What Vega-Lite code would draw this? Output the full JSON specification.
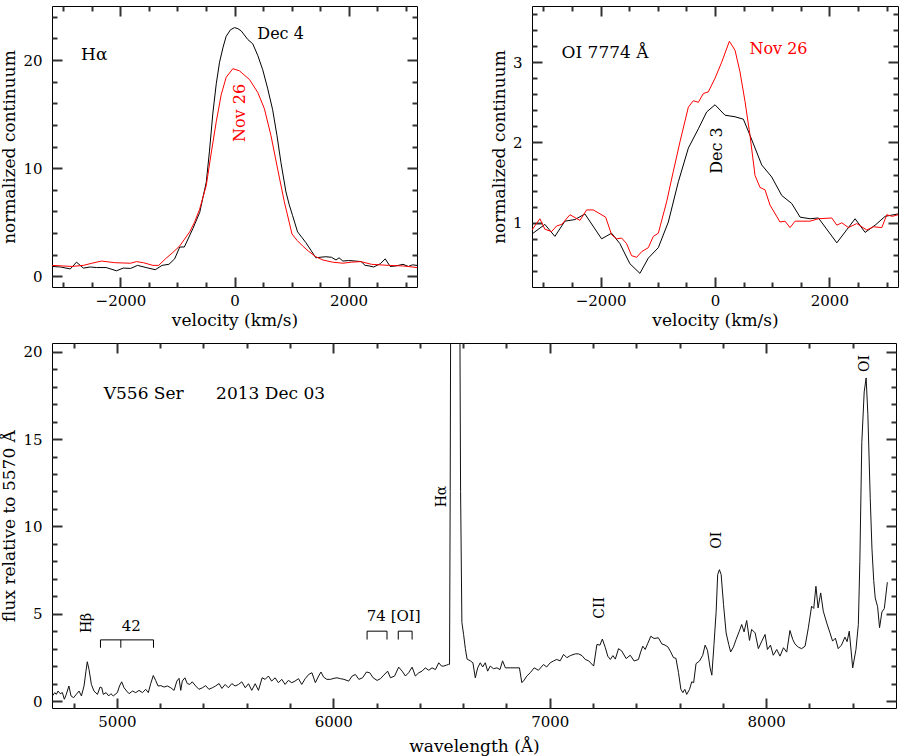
{
  "$schema": "https://vega.github.io/schema/vega-lite/v6.json",
  "autosize": {"type": "pad"},
  "padding": {"left": 0, "top": 4, "right": 2, "bottom": 2},
  "background": "white",
  "spacing": 12,
  "config": {
    "view": {"stroke": "#000", "strokeWidth": 1},
    "axis": {
      "domain": false, "grid": false, "ticks": true, "tickColor": "#333", "tickWidth": 2, "tickOpacity": 1, "zindex": 1,
      "labelColor": "#000", "titleColor": "#000",
      "labelFont": "DejaVu Serif", "titleFont": "DejaVu Serif",
      "labelFontSize": 15, "titleFontSize": 17, "titleFontWeight": "normal",
      "labelPadding": 6, "titlePadding": 4
    },
    "text": {"font": "DejaVu Serif"}
  },
  "datasets": {
    "haBlack": [
      {"v":-3200,"f":0.9},{"v":-3050,"f":0.85},{"v":-2880,"f":0.67},{"v":-2770,"f":1.3},{"v":-2650,"f":0.75},{"v":-2530,"f":0.85},{"v":-2420,"f":0.8},{"v":-2250,"f":0.8},{"v":-2070,"f":0.5},{"v":-1950,"f":0.75},{"v":-1820,"f":0.72},{"v":-1700,"f":1.0},{"v":-1550,"f":0.8},{"v":-1390,"f":0.6},{"v":-1270,"f":1.0},{"v":-1150,"f":1.1},{"v":-1050,"f":1.6},{"v":-960,"f":2.7},{"v":-880,"f":2.7},{"v":-730,"f":4.4},{"v":-610,"f":5.9},{"v":-495,"f":8.7},{"v":-440,"f":11.5},{"v":-379,"f":15.1},{"v":-320,"f":17.8},{"v":-262,"f":19.8},{"v":-200,"f":21.2},{"v":-146,"f":22.2},{"v":-70,"f":22.8},{"v":0,"f":23.0},{"v":60,"f":22.9},{"v":117,"f":22.7},{"v":233,"f":21.9},{"v":320,"f":21.5},{"v":410,"f":20.4},{"v":495,"f":19.1},{"v":580,"f":17.4},{"v":669,"f":15.4},{"v":745,"f":13.0},{"v":815,"f":10.5},{"v":902,"f":7.8},{"v":960,"f":6.6},{"v":1019,"f":5.6},{"v":1106,"f":4.1},{"v":1180,"f":3.6},{"v":1252,"f":3.1},{"v":1340,"f":2.4},{"v":1427,"f":1.7},{"v":1500,"f":1.75},{"v":1600,"f":1.8},{"v":1700,"f":1.75},{"v":1780,"f":1.5},{"v":1834,"f":1.7},{"v":1900,"f":1.4},{"v":2000,"f":1.45},{"v":2120,"f":1.4},{"v":2220,"f":1.35},{"v":2290,"f":1.0},{"v":2360,"f":0.95},{"v":2440,"f":0.85},{"v":2556,"f":1.15},{"v":2643,"f":1.6},{"v":2730,"f":0.9},{"v":2830,"f":0.95},{"v":2955,"f":1.1},{"v":3050,"f":0.9},{"v":3120,"f":1.05},{"v":3200,"f":1.0}
    ],
    "haRed": [
      {"v":-3200,"f":1.0},{"v":-2850,"f":0.9},{"v":-2650,"f":1.0},{"v":-2500,"f":1.2},{"v":-2330,"f":1.4},{"v":-2100,"f":1.25},{"v":-1820,"f":1.2},{"v":-1720,"f":1.35},{"v":-1600,"f":1.25},{"v":-1430,"f":1.0},{"v":-1330,"f":1.0},{"v":-1212,"f":1.6},{"v":-1080,"f":2.2},{"v":-960,"f":2.8},{"v":-786,"f":4.1},{"v":-700,"f":5.0},{"v":-611,"f":6.2},{"v":-495,"f":8.4},{"v":-408,"f":11.4},{"v":-320,"f":14.3},{"v":-233,"f":16.8},{"v":-146,"f":18.4},{"v":-29,"f":19.2},{"v":87,"f":19.0},{"v":262,"f":18.2},{"v":408,"f":17.0},{"v":524,"f":15.5},{"v":640,"f":13.0},{"v":757,"f":9.9},{"v":873,"f":6.9},{"v":1008,"f":3.9},{"v":1100,"f":3.3},{"v":1194,"f":2.8},{"v":1300,"f":2.3},{"v":1427,"f":1.8},{"v":1550,"f":1.5},{"v":1718,"f":1.3},{"v":1900,"f":1.2},{"v":2050,"f":1.3},{"v":2215,"f":1.35},{"v":2400,"f":1.1},{"v":2700,"f":1.0},{"v":2950,"f":0.95},{"v":3200,"f":0.8}
    ],
    "oiBlack": [
      {"v":-3200,"f":0.86},{"v":-2975,"f":0.98},{"v":-2800,"f":0.83},{"v":-2625,"f":1.02},{"v":-2450,"f":1.04},{"v":-2275,"f":1.11},{"v":-1983,"f":0.80},{"v":-1808,"f":0.87},{"v":-1663,"f":0.74},{"v":-1488,"f":0.49},{"v":-1313,"f":0.37},{"v":-1166,"f":0.56},{"v":-991,"f":0.69},{"v":-816,"f":1.01},{"v":-641,"f":1.51},{"v":-466,"f":1.93},{"v":-291,"f":2.17},{"v":-146,"f":2.38},{"v":0,"f":2.47},{"v":175,"f":2.34},{"v":350,"f":2.32},{"v":496,"f":2.29},{"v":612,"f":2.09},{"v":817,"f":1.72},{"v":992,"f":1.57},{"v":1167,"f":1.34},{"v":1342,"f":1.24},{"v":1488,"f":1.07},{"v":1663,"f":1.05},{"v":1808,"f":1.06},{"v":2130,"f":0.75},{"v":2450,"f":1.05},{"v":2625,"f":0.88},{"v":2800,"f":0.97},{"v":2975,"f":1.08},{"v":3200,"f":1.11}
    ],
    "oiRed": [
      {"v":-3200,"f":0.91},{"v":-3062,"f":1.05},{"v":-2975,"f":0.92},{"v":-2858,"f":0.89},{"v":-2770,"f":0.96},{"v":-2680,"f":0.98},{"v":-2537,"f":1.10},{"v":-2362,"f":1.03},{"v":-2245,"f":1.16},{"v":-2128,"f":1.16},{"v":-1912,"f":1.07},{"v":-1808,"f":0.85},{"v":-1720,"f":0.80},{"v":-1633,"f":0.81},{"v":-1546,"f":0.74},{"v":-1458,"f":0.59},{"v":-1370,"f":0.57},{"v":-1283,"f":0.64},{"v":-1166,"f":0.69},{"v":-1079,"f":0.83},{"v":-991,"f":0.87},{"v":-846,"f":1.26},{"v":-729,"f":1.64},{"v":-612,"f":2.01},{"v":-466,"f":2.44},{"v":-379,"f":2.52},{"v":-291,"f":2.50},{"v":-204,"f":2.61},{"v":-117,"f":2.63},{"v":0,"f":2.80},{"v":117,"f":3.0},{"v":251,"f":3.26},{"v":350,"f":3.15},{"v":437,"f":2.88},{"v":525,"f":2.51},{"v":612,"f":2.09},{"v":700,"f":1.59},{"v":787,"f":1.44},{"v":875,"f":1.41},{"v":962,"f":1.22},{"v":1137,"f":1.01},{"v":1225,"f":1.02},{"v":1312,"f":0.94},{"v":1400,"f":1.02},{"v":1663,"f":1.02},{"v":1808,"f":1.05},{"v":2042,"f":1.06},{"v":2130,"f":0.97},{"v":2217,"f":1.0},{"v":2334,"f":0.94},{"v":2479,"f":0.99},{"v":2654,"f":0.91},{"v":2771,"f":0.95},{"v":2917,"f":0.94},{"v":3004,"f":1.10},{"v":3100,"f":1.08},{"v":3200,"f":1.10}
    ],
    "spec": [
      {"w":4702,"f":0.29},{"w":4713,"f":0.48},{"w":4720,"f":0.38},{"w":4728,"f":0.57},{"w":4738,"f":0.42},{"w":4748,"f":0.48},{"w":4757,"f":0.1},{"w":4766,"f":0.38},{"w":4778,"f":0.86},{"w":4788,"f":0.29},{"w":4800,"f":0.19},{"w":4812,"f":0.38},{"w":4825,"f":0.57},{"w":4836,"f":0.29},{"w":4848,"f":0.86},{"w":4857,"f":1.71},{"w":4863,"f":2.25},{"w":4871,"f":1.81},{"w":4882,"f":0.95},{"w":4894,"f":0.57},{"w":4910,"f":0.38},{"w":4922,"f":0.80},{"w":4930,"f":0.76},{"w":4937,"f":0.38},{"w":4950,"f":0.48},{"w":4962,"f":0.29},{"w":4972,"f":0.42},{"w":4983,"f":0.29},{"w":5002,"f":0.48},{"w":5012,"f":0.86},{"w":5022,"f":1.1},{"w":5033,"f":0.76},{"w":5045,"f":0.57},{"w":5056,"f":0.42},{"w":5072,"f":0.57},{"w":5087,"f":0.48},{"w":5102,"f":0.61},{"w":5118,"f":0.48},{"w":5133,"f":0.67},{"w":5145,"f":0.48},{"w":5156,"f":0.99},{"w":5168,"f":1.46},{"w":5179,"f":1.18},{"w":5190,"f":0.86},{"w":5203,"f":0.88},{"w":5218,"f":0.80},{"w":5233,"f":0.86},{"w":5249,"f":0.76},{"w":5264,"f":0.61},{"w":5277,"f":1.14},{"w":5287,"f":1.3},{"w":5295,"f":0.61},{"w":5302,"f":1.14},{"w":5314,"f":1.33},{"w":5325,"f":1.0},{"w":5337,"f":0.95},{"w":5348,"f":1.1},{"w":5364,"f":0.86},{"w":5379,"f":0.67},{"w":5395,"f":0.76},{"w":5410,"f":0.88},{"w":5425,"f":0.67},{"w":5441,"f":0.76},{"w":5456,"f":0.86},{"w":5472,"f":1.0},{"w":5485,"f":0.72},{"w":5500,"f":0.95},{"w":5515,"f":0.76},{"w":5531,"f":1.0},{"w":5546,"f":0.86},{"w":5562,"f":0.95},{"w":5577,"f":1.1},{"w":5593,"f":0.76},{"w":5608,"f":0.99},{"w":5623,"f":0.61},{"w":5639,"f":0.99},{"w":5654,"f":0.61},{"w":5671,"f":1.33},{"w":5685,"f":1.24},{"w":5700,"f":1.43},{"w":5715,"f":1.14},{"w":5731,"f":1.33},{"w":5746,"f":1.05},{"w":5762,"f":1.24},{"w":5777,"f":0.95},{"w":5792,"f":1.18},{"w":5808,"f":1.05},{"w":5823,"f":1.14},{"w":5839,"f":1.28},{"w":5854,"f":0.95},{"w":5870,"f":1.28},{"w":5886,"f":1.52},{"w":5901,"f":1.62},{"w":5917,"f":1.05},{"w":5932,"f":1.43},{"w":5943,"f":1.66},{"w":5955,"f":1.37},{"w":5970,"f":1.24},{"w":5987,"f":1.24},{"w":6003,"f":1.3},{"w":6017,"f":1.33},{"w":6033,"f":1.28},{"w":6049,"f":1.24},{"w":6071,"f":1.14},{"w":6087,"f":1.43},{"w":6102,"f":1.52},{"w":6118,"f":1.24},{"w":6135,"f":1.33},{"w":6153,"f":1.66},{"w":6168,"f":1.62},{"w":6184,"f":1.33},{"w":6202,"f":1.18},{"w":6218,"f":1.28},{"w":6233,"f":1.48},{"w":6251,"f":1.71},{"w":6264,"f":1.33},{"w":6283,"f":1.43},{"w":6302,"f":1.94},{"w":6318,"f":1.71},{"w":6333,"f":1.43},{"w":6348,"f":1.62},{"w":6364,"f":1.94},{"w":6379,"f":1.43},{"w":6395,"f":1.62},{"w":6410,"f":1.71},{"w":6425,"f":1.9},{"w":6441,"f":1.76},{"w":6456,"f":1.9},{"w":6472,"f":1.8},{"w":6487,"f":2.19},{"w":6500,"f":2.0},{"w":6510,"f":2.0},{"w":6522,"f":2.05},{"w":6533,"f":2.1},{"w":6537,"f":2.1},{"w":6540,"f":12},{"w":6543,"f":26},{"w":6555,"f":38},{"w":6563,"f":44},{"w":6572,"f":38},{"w":6584,"f":24},{"w":6588,"f":12},{"w":6594,"f":4.5},{"w":6602,"f":3.8},{"w":6610,"f":3.0},{"w":6618,"f":2.4},{"w":6633,"f":2.3},{"w":6645,"f":2.19},{"w":6656,"f":1.33},{"w":6667,"f":1.9},{"w":6679,"f":2.19},{"w":6690,"f":1.95},{"w":6702,"f":2.19},{"w":6713,"f":1.71},{"w":6725,"f":2.0},{"w":6740,"f":1.85},{"w":6756,"f":1.9},{"w":6770,"f":1.8},{"w":6782,"f":2.3},{"w":6795,"f":1.9},{"w":6817,"f":1.9},{"w":6840,"f":1.9},{"w":6860,"f":1.9},{"w":6871,"f":1.05},{"w":6882,"f":1.2},{"w":6894,"f":1.43},{"w":6910,"f":1.62},{"w":6928,"f":1.9},{"w":6948,"f":1.76},{"w":6971,"f":2.09},{"w":6986,"f":1.95},{"w":7002,"f":2.19},{"w":7017,"f":2.29},{"w":7032,"f":2.38},{"w":7048,"f":2.3},{"w":7064,"f":2.67},{"w":7079,"f":2.48},{"w":7095,"f":2.6},{"w":7118,"f":2.7},{"w":7133,"f":2.7},{"w":7149,"f":2.6},{"w":7164,"f":2.38},{"w":7180,"f":2.3},{"w":7203,"f":2.0},{"w":7218,"f":3.24},{"w":7232,"f":3.2},{"w":7243,"f":3.55},{"w":7257,"f":3.05},{"w":7268,"f":2.57},{"w":7280,"f":2.38},{"w":7292,"f":2.6},{"w":7303,"f":2.4},{"w":7318,"f":3.0},{"w":7333,"f":2.86},{"w":7353,"f":2.43},{"w":7372,"f":2.62},{"w":7390,"f":2.29},{"w":7410,"f":2.38},{"w":7420,"f":2.8},{"w":7430,"f":3.14},{"w":7441,"f":2.95},{"w":7452,"f":3.27},{"w":7467,"f":3.71},{"w":7482,"f":3.58},{"w":7502,"f":3.62},{"w":7518,"f":3.27},{"w":7533,"f":3.2},{"w":7546,"f":3.1},{"w":7559,"f":2.81},{"w":7572,"f":2.48},{"w":7583,"f":2.45},{"w":7595,"f":1.62},{"w":7606,"f":0.67},{"w":7615,"f":0.48},{"w":7624,"f":0.67},{"w":7633,"f":0.38},{"w":7646,"f":0.67},{"w":7656,"f":1.1},{"w":7665,"f":1.05},{"w":7676,"f":2.14},{"w":7692,"f":2.29},{"w":7707,"f":2.62},{"w":7718,"f":3.2},{"w":7729,"f":2.9},{"w":7741,"f":1.9},{"w":7749,"f":1.48},{"w":7759,"f":3.24},{"w":7769,"f":5.14},{"w":7776,"f":7.24},{"w":7784,"f":7.52},{"w":7792,"f":7.24},{"w":7803,"f":5.52},{"w":7815,"f":3.9},{"w":7827,"f":3.24},{"w":7836,"f":2.81},{"w":7849,"f":3.1},{"w":7861,"f":3.52},{"w":7876,"f":4.0},{"w":7887,"f":4.38},{"w":7898,"f":3.96},{"w":7910,"f":4.61},{"w":7923,"f":3.47},{"w":7933,"f":4.1},{"w":7949,"f":3.9},{"w":7964,"f":3.0},{"w":7980,"f":3.43},{"w":7995,"f":3.81},{"w":8006,"f":2.95},{"w":8020,"f":3.2},{"w":8033,"f":2.62},{"w":8049,"f":2.95},{"w":8064,"f":2.57},{"w":8080,"f":3.05},{"w":8095,"f":2.8},{"w":8110,"f":4.04},{"w":8123,"f":3.52},{"w":8133,"f":3.27},{"w":8149,"f":3.08},{"w":8164,"f":3.0},{"w":8180,"f":3.14},{"w":8195,"f":4.19},{"w":8210,"f":5.43},{"w":8220,"f":5.3},{"w":8230,"f":6.57},{"w":8240,"f":5.33},{"w":8252,"f":6.19},{"w":8264,"f":5.14},{"w":8280,"f":4.47},{"w":8295,"f":3.9},{"w":8307,"f":3.43},{"w":8320,"f":3.6},{"w":8333,"f":3.0},{"w":8348,"f":3.2},{"w":8364,"f":3.66},{"w":8374,"f":3.4},{"w":8384,"f":4.0},{"w":8400,"f":1.9},{"w":8415,"f":2.95},{"w":8426,"f":4.38},{"w":8433,"f":8.0},{"w":8442,"f":14.8},{"w":8453,"f":17.7},{"w":8462,"f":18.5},{"w":8470,"f":16.4},{"w":8481,"f":11.6},{"w":8489,"f":8.7},{"w":8497,"f":6.9},{"w":8504,"f":5.9},{"w":8515,"f":5.4},{"w":8524,"f":4.2},{"w":8535,"f":5.1},{"w":8546,"f":5.3},{"w":8560,"f":6.8}
    ]
  },
  "vconcat": [
    {
      "hconcat": [
        {
          "width": 365, "height": 281,
          "layer": [
            {
              "data": {"name": "haBlack"},
              "mark": {"type": "line", "color": "#000", "strokeWidth": 1, "clip": true},
              "encoding": {
                "x": {"field": "v", "type": "quantitative", "scale": {"domain": [-3200, 3200], "nice": false, "zero": false},
                      "axis": {"orient": "bottom", "values": [-2000, 0, 2000], "format": "d", "offset": -10, "tickSize": 10, "title": "velocity (km/s)"}},
                "y": {"field": "f", "type": "quantitative", "scale": {"domain": [-1, 25], "nice": false, "zero": false},
                      "axis": {"orient": "left", "values": [0, 10, 20], "format": "d", "offset": -10, "tickSize": 10, "labelPadding": 10, "title": "normalized continuum"}}
              }
            },
            {
              "data": {"name": "haRed"},
              "mark": {"type": "line", "color": "#ff0000", "strokeWidth": 1, "clip": true},
              "encoding": {
                "x": {"field": "v", "type": "quantitative", "scale": {"domain": [-3200, 3200], "nice": false, "zero": false},
                      "axis": {"orient": "top", "values": [-2000, 0, 2000], "offset": -10, "tickSize": 10, "labels": false, "title": null}},
                "y": {"field": "f", "type": "quantitative", "scale": {"domain": [-1, 25], "nice": false, "zero": false},
                      "axis": {"orient": "right", "values": [0, 10, 20], "offset": -10, "tickSize": 10, "labels": false, "title": null}}
              }
            },
            {
              "data": {"values": [{"v": -2690, "f": 20.5, "label": "Hα"}]},
              "mark": {"type": "text", "align": "left", "baseline": "middle", "fontSize": 17, "color": "#000"},
              "encoding": {
                "text": {"field": "label"},
                "x": {"field": "v", "type": "quantitative", "scale": {"domain": [-3200, 3200], "nice": false, "zero": false},
                      "axis": {"orient": "bottom", "values": [-3000, -2500, -1500, -1000, -500, 500, 1000, 1500, 2500, 3000], "offset": -5, "tickSize": 5, "labels": false, "title": null}},
                "y": {"field": "f", "type": "quantitative", "scale": {"domain": [-1, 25], "nice": false, "zero": false},
                      "axis": {"orient": "left", "values": [2, 4, 6, 8, 12, 14, 16, 18, 22, 24], "offset": -5, "tickSize": 5, "labels": false, "title": null}}
              }
            },
            {
              "data": {"values": [{"v": 400, "f": 22.4, "label": "Dec 4"}]},
              "mark": {"type": "text", "align": "left", "baseline": "middle", "fontSize": 16, "color": "#000"},
              "encoding": {
                "text": {"field": "label"},
                "x": {"field": "v", "type": "quantitative", "scale": {"domain": [-3200, 3200], "nice": false, "zero": false},
                      "axis": {"orient": "top", "values": [-3000, -2500, -1500, -1000, -500, 500, 1000, 1500, 2500, 3000], "offset": -5, "tickSize": 5, "labels": false, "title": null}},
                "y": {"field": "f", "type": "quantitative", "scale": {"domain": [-1, 25], "nice": false, "zero": false},
                      "axis": {"orient": "right", "values": [2, 4, 6, 8, 12, 14, 16, 18, 22, 24], "offset": -5, "tickSize": 5, "labels": false, "title": null}}
              }
            },
            {
              "data": {"values": [{"v": 90, "f": 15.1, "label": "Nov 26"}]},
              "mark": {"type": "text", "align": "center", "baseline": "middle", "angle": 270, "fontSize": 16, "color": "#ff0000"},
              "encoding": {
                "text": {"field": "label"},
                "x": {"field": "v", "type": "quantitative", "scale": {"domain": [-3200, 3200], "nice": false, "zero": false}, "axis": null},
                "y": {"field": "f", "type": "quantitative", "scale": {"domain": [-1, 25], "nice": false, "zero": false}, "axis": null}
              }
            }
          ],
          "resolve": {"axis": {"x": "independent", "y": "independent"}}
        },
        {
          "width": 366, "height": 281,
          "layer": [
            {
              "data": {"name": "oiBlack"},
              "mark": {"type": "line", "color": "#000", "strokeWidth": 1, "clip": true},
              "encoding": {
                "x": {"field": "v", "type": "quantitative", "scale": {"domain": [-3200, 3200], "nice": false, "zero": false},
                      "axis": {"orient": "bottom", "values": [-2000, 0, 2000], "format": "d", "offset": -10, "tickSize": 10, "title": "velocity (km/s)"}},
                "y": {"field": "f", "type": "quantitative", "scale": {"domain": [0.2, 3.7], "nice": false, "zero": false},
                      "axis": {"orient": "left", "values": [1, 2, 3], "format": "d", "offset": -10, "tickSize": 10, "labelPadding": 10, "title": "normalized continuum"}}
              }
            },
            {
              "data": {"name": "oiRed"},
              "mark": {"type": "line", "color": "#ff0000", "strokeWidth": 1, "clip": true},
              "encoding": {
                "x": {"field": "v", "type": "quantitative", "scale": {"domain": [-3200, 3200], "nice": false, "zero": false},
                      "axis": {"orient": "top", "values": [-2000, 0, 2000], "offset": -10, "tickSize": 10, "labels": false, "title": null}},
                "y": {"field": "f", "type": "quantitative", "scale": {"domain": [0.2, 3.7], "nice": false, "zero": false},
                      "axis": {"orient": "right", "values": [1, 2, 3], "offset": -10, "tickSize": 10, "labels": false, "title": null}}
              }
            },
            {
              "data": {"values": [{"v": -2683, "f": 3.12, "label": "OI 7774 Å"}]},
              "mark": {"type": "text", "align": "left", "baseline": "middle", "fontSize": 17, "color": "#000"},
              "encoding": {
                "text": {"field": "label"},
                "x": {"field": "v", "type": "quantitative", "scale": {"domain": [-3200, 3200], "nice": false, "zero": false},
                      "axis": {"orient": "bottom", "values": [-3000, -2500, -1500, -1000, -500, 500, 1000, 1500, 2500, 3000], "offset": -5, "tickSize": 5, "labels": false, "title": null}},
                "y": {"field": "f", "type": "quantitative", "scale": {"domain": [0.2, 3.7], "nice": false, "zero": false},
                      "axis": {"orient": "left", "values": [0.4, 0.6, 0.8, 1.2, 1.4, 1.6, 1.8, 2.2, 2.4, 2.6, 2.8, 3.2, 3.4, 3.6], "offset": -5, "tickSize": 5, "labels": false, "title": null}}
              }
            },
            {
              "data": {"values": [{"v": 602, "f": 3.16, "label": "Nov 26"}]},
              "mark": {"type": "text", "align": "left", "baseline": "middle", "fontSize": 16, "color": "#ff0000"},
              "encoding": {
                "text": {"field": "label"},
                "x": {"field": "v", "type": "quantitative", "scale": {"domain": [-3200, 3200], "nice": false, "zero": false},
                      "axis": {"orient": "top", "values": [-3000, -2500, -1500, -1000, -500, 500, 1000, 1500, 2500, 3000], "offset": -5, "tickSize": 5, "labels": false, "title": null}},
                "y": {"field": "f", "type": "quantitative", "scale": {"domain": [0.2, 3.7], "nice": false, "zero": false},
                      "axis": {"orient": "right", "values": [0.4, 0.6, 0.8, 1.2, 1.4, 1.6, 1.8, 2.2, 2.4, 2.6, 2.8, 3.2, 3.4, 3.6], "offset": -5, "tickSize": 5, "labels": false, "title": null}}
              }
            },
            {
              "data": {"values": [{"v": 30, "f": 1.9, "label": "Dec 3"}]},
              "mark": {"type": "text", "align": "center", "baseline": "middle", "angle": 270, "fontSize": 16, "color": "#000"},
              "encoding": {
                "text": {"field": "label"},
                "x": {"field": "v", "type": "quantitative", "scale": {"domain": [-3200, 3200], "nice": false, "zero": false}, "axis": null},
                "y": {"field": "f", "type": "quantitative", "scale": {"domain": [0.2, 3.7], "nice": false, "zero": false}, "axis": null}
              }
            }
          ],
          "resolve": {"axis": {"x": "independent", "y": "independent"}}
        }
      ],
      "spacing": 70
    },
    {
      "width": 844, "height": 365,
      "layer": [
        {
          "data": {"name": "spec"},
          "mark": {"type": "line", "color": "#111", "strokeWidth": 1, "clip": true},
          "encoding": {
            "x": {"field": "w", "type": "quantitative", "scale": {"domain": [4700, 8600], "nice": false, "zero": false},
                  "axis": {"orient": "bottom", "values": [5000, 6000, 7000, 8000], "format": "d", "offset": -10, "tickSize": 10, "titlePadding": 9, "title": "wavelength (Å)"}},
            "y": {"field": "f", "type": "quantitative", "scale": {"domain": [-0.4, 20.5], "nice": false, "zero": false},
                  "axis": {"orient": "left", "values": [0, 5, 10, 15, 20], "format": "d", "offset": -10, "tickSize": 10, "labelPadding": 10, "title": "flux relative to 5570 Å"}}
          }
        },
        {
          "data": {"values": [
            {"w": 4863, "f": 4.47, "label": "Hβ"},
            {"w": 6502, "f": 11.71, "label": "Hα"},
            {"w": 7230, "f": 5.33, "label": "CII"},
            {"w": 7772, "f": 9.2, "label": "OI"},
            {"w": 8457, "f": 19.33, "label": "OI"}
          ]},
          "mark": {"type": "text", "align": "center", "baseline": "middle", "angle": 270, "fontSize": 14, "color": "#000"},
          "encoding": {
            "text": {"field": "label"},
            "x": {"field": "w", "type": "quantitative", "scale": {"domain": [4700, 8600], "nice": false, "zero": false},
                  "axis": {"orient": "top", "values": [5000, 6000, 7000, 8000], "offset": -10, "tickSize": 10, "labels": false, "title": null}},
            "y": {"field": "f", "type": "quantitative", "scale": {"domain": [-0.4, 20.5], "nice": false, "zero": false},
                  "axis": {"orient": "right", "values": [0, 5, 10, 15, 20], "offset": -10, "tickSize": 10, "labels": false, "title": null}}
          }
        },
        {
          "data": {"values": [
            {"w": 5066, "f": 4.29, "label": "42"},
            {"w": 6279, "f": 4.86, "label": "74 [OI]"}
          ]},
          "mark": {"type": "text", "align": "center", "baseline": "middle", "fontSize": 15, "color": "#000"},
          "encoding": {
            "text": {"field": "label"},
            "x": {"field": "w", "type": "quantitative", "scale": {"domain": [4700, 8600], "nice": false, "zero": false},
                  "axis": {"orient": "bottom", "values": [4800, 5200, 5400, 5600, 5800, 6200, 6400, 6600, 6800, 7200, 7400, 7600, 7800, 8200, 8400], "offset": -5, "tickSize": 5, "labels": false, "title": null}},
            "y": {"field": "f", "type": "quantitative", "scale": {"domain": [-0.4, 20.5], "nice": false, "zero": false},
                  "axis": {"orient": "left", "values": [1, 2, 3, 4, 6, 7, 8, 9, 11, 12, 13, 14, 16, 17, 18, 19], "offset": -5, "tickSize": 5, "labels": false, "title": null}}
          }
        },
        {
          "data": {"values": [{"w": 4939, "f": 17.56, "label": "V556 Ser\u00a0\u00a0\u00a0\u00a0\u00a0 2013 Dec 03"}]},
          "mark": {"type": "text", "align": "left", "baseline": "middle", "fontSize": 17, "color": "#000"},
          "encoding": {
            "text": {"field": "label"},
            "x": {"field": "w", "type": "quantitative", "scale": {"domain": [4700, 8600], "nice": false, "zero": false},
                  "axis": {"orient": "top", "values": [4800, 5200, 5400, 5600, 5800, 6200, 6400, 6600, 6800, 7200, 7400, 7600, 7800, 8200, 8400], "offset": -5, "tickSize": 5, "labels": false, "title": null}},
            "y": {"field": "f", "type": "quantitative", "scale": {"domain": [-0.4, 20.5], "nice": false, "zero": false},
                  "axis": {"orient": "right", "values": [1, 2, 3, 4, 6, 7, 8, 9, 11, 12, 13, 14, 16, 17, 18, 19], "offset": -5, "tickSize": 5, "labels": false, "title": null}}
          }
        },
        {
          "data": {"values": [
            {"w": 4924, "w2": 5169, "f": 3.5},
            {"w": 6156, "w2": 6248, "f": 4.0},
            {"w": 6300, "w2": 6364, "f": 4.0}
          ]},
          "mark": {"type": "rule", "color": "#000", "strokeWidth": 1},
          "encoding": {
            "x": {"field": "w", "type": "quantitative", "scale": {"domain": [4700, 8600], "nice": false, "zero": false}, "axis": null},
            "x2": {"field": "w2"},
            "y": {"field": "f", "type": "quantitative", "scale": {"domain": [-0.4, 20.5], "nice": false, "zero": false}, "axis": null}
          }
        },
        {
          "data": {"values": [
            {"w": 4924, "f": 3.05, "f2": 3.5},
            {"w": 5018, "f": 3.05, "f2": 3.5},
            {"w": 5169, "f": 3.05, "f2": 3.5},
            {"w": 6156, "f": 3.52, "f2": 4.0},
            {"w": 6248, "f": 3.52, "f2": 4.0},
            {"w": 6300, "f": 3.52, "f2": 4.0},
            {"w": 6364, "f": 3.52, "f2": 4.0}
          ]},
          "mark": {"type": "rule", "color": "#000", "strokeWidth": 1},
          "encoding": {
            "x": {"field": "w", "type": "quantitative", "scale": {"domain": [4700, 8600], "nice": false, "zero": false}, "axis": null},
            "y": {"field": "f", "type": "quantitative", "scale": {"domain": [-0.4, 20.5], "nice": false, "zero": false}, "axis": null},
            "y2": {"field": "f2"}
          }
        }
      ],
      "resolve": {"axis": {"x": "independent", "y": "independent"}}
    }
  ]
}
